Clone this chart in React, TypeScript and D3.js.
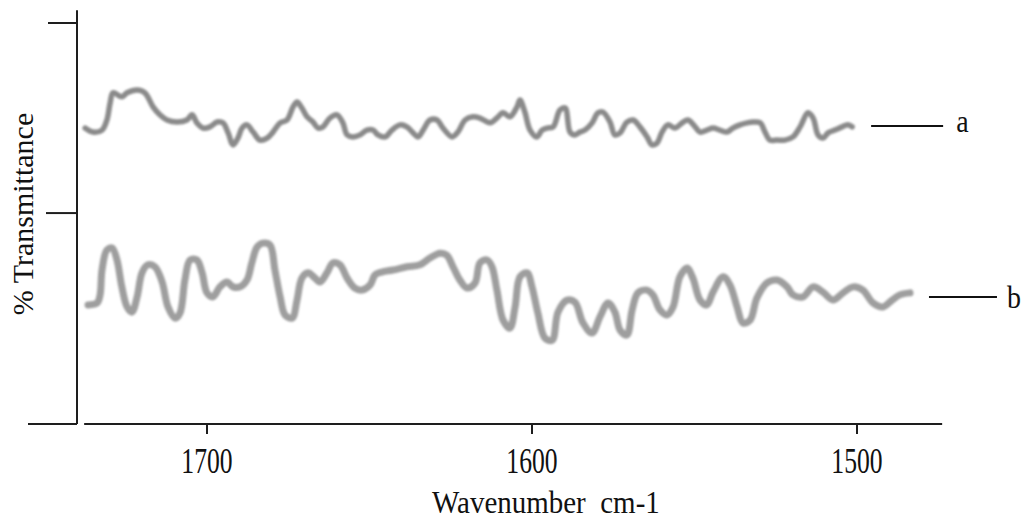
import React from "react";
import * as d3 from "d3";

// Wavenumber (cm-1) and relative % transmittance
const waveA = [1737.5,1735.1,1732.3,1730.8,1729.8,1728.9,1726.2,1724.6,1721.5,1719.1,1716.6,1714.5,1712.3,1709.2,1706.2,1704.6,1703.1,1701.2,1699.1,1696.9,1695.1,1693.5,1692.0,1690.5,1689.2,1687.7,1685.8,1683.7,1681.5,1679.7,1677.5,1675.4,1673.5,1672.3,1670.8,1669.2,1667.4,1665.8,1664.3,1662.2,1660.0,1658.2,1656.9,1655.1,1652.9,1650.8,1648.9,1647.4,1645.2,1643.1,1640.6,1638.5,1636.6,1635.1,1633.5,1631.4,1629.2,1627.4,1624.6,1622.8,1620.6,1618.2,1616.0,1612.9,1610.8,1608.9,1606.8,1604.6,1603.7,1602.2,1600.6,1598.5,1596.9,1595.4,1593.5,1591.4,1589.8,1588.3,1586.8,1585.2,1583.7,1581.5,1579.7,1578.2,1576.0,1574.5,1572.9,1570.8,1568.9,1566.8,1564.6,1563.1,1561.5,1560.0,1558.2,1556.0,1553.8,1552.0,1549.8,1548.3,1546.2,1544.3,1542.2,1540.0,1538.2,1536.0,1533.8,1532.0,1529.8,1528.3,1526.8,1524.6,1522.2,1519.7,1517.5,1515.1,1513.5,1512.0,1510.5,1508.9,1506.8,1504.6,1502.8,1501.5];
const transA = [73.8,72.8,73.3,75.8,80.1,82.6,81.6,82.6,83.3,82.6,79.1,77.1,75.8,75.3,75.8,77.1,75.1,73.8,74.1,75.3,75.1,72.6,69.6,71.3,73.8,74.6,72.8,70.8,71.3,72.8,75.1,75.8,79.1,80.3,78.8,76.6,75.3,73.8,74.1,76.3,77.1,75.1,72.1,71.6,72.1,73.3,73.3,72.1,71.6,73.3,74.6,74.1,72.6,71.6,73.3,75.8,75.8,73.8,71.6,72.8,75.8,76.6,76.3,75.1,76.3,77.6,76.6,79.1,80.8,77.8,73.3,71.6,73.3,73.8,74.1,78.3,78.8,72.8,72.1,72.8,73.3,75.1,77.6,77.8,75.3,72.1,72.6,75.3,75.8,74.1,71.6,69.6,70.1,72.8,74.6,73.8,75.1,75.8,74.1,72.8,73.3,73.8,73.3,72.8,73.8,74.6,75.1,75.3,75.1,72.8,70.8,70.8,70.8,71.6,74.1,77.6,76.3,72.1,71.3,72.6,73.3,74.1,74.6,74.1];

const waveB = [1736.6,1733.8,1732.9,1732.3,1730.8,1729.2,1727.7,1726.2,1724.6,1723.1,1721.5,1720.0,1718.2,1716.0,1713.8,1712.0,1709.8,1708.3,1706.8,1705.2,1703.1,1701.5,1700.0,1698.2,1696.0,1693.8,1692.0,1689.8,1687.7,1686.2,1684.6,1682.8,1680.6,1679.1,1677.5,1676.0,1673.8,1672.3,1670.8,1668.9,1666.8,1665.2,1663.1,1661.2,1659.1,1656.9,1654.5,1652.3,1649.8,1648.3,1646.2,1642.8,1638.5,1634.5,1631.4,1628.3,1626.2,1624.3,1622.2,1620.0,1617.5,1616.0,1613.8,1612.3,1610.8,1608.9,1606.8,1605.2,1603.7,1601.5,1600.0,1598.2,1596.0,1593.8,1592.0,1589.2,1586.8,1584.3,1581.5,1579.1,1576.6,1574.5,1572.9,1570.8,1569.2,1567.4,1564.6,1562.8,1560.6,1558.5,1556.6,1554.5,1552.3,1550.5,1548.3,1546.2,1544.3,1541.2,1539.1,1536.9,1535.1,1532.9,1530.8,1527.7,1524.6,1521.5,1519.7,1516.6,1513.5,1510.5,1507.4,1504.3,1501.2,1498.2,1495.1,1492.0,1489.2,1486.8,1483.7];
const transB = [29.7,30.2,32.2,38.4,43.4,43.9,40.9,34.2,29.2,27.9,31.7,37.7,39.7,39.2,35.4,29.2,26.4,27.7,35.9,40.9,40.9,37.7,32.7,31.7,34.2,35.4,34.2,34.2,35.9,40.2,44.1,45.1,44.6,38.4,31.7,27.2,26.4,30.9,36.4,37.7,36.4,35.4,37.7,40.2,39.7,36.4,33.9,33.4,34.7,37.2,37.9,38.4,39.2,39.7,41.4,42.6,42.1,39.2,35.9,33.9,35.2,40.2,40.9,39.2,33.4,25.9,23.9,29.2,36.7,37.7,34.2,27.7,21.4,20.9,27.9,30.9,30.4,25.2,22.7,26.7,30.2,27.9,23.4,22.2,28.4,32.7,33.4,32.2,28.4,27.2,29.2,36.7,38.9,36.4,30.9,29.7,32.9,36.7,34.7,29.2,25.2,25.9,31.4,35.2,35.9,34.2,32.2,31.7,34.2,32.9,30.9,32.7,34.2,33.4,30.2,29.2,30.9,32.2,32.7];

const xTicks = [1700, 1600, 1500];
const yTicks = [0, 52.6, 100];
const seriesLabels = ["a", "b"];

export default function App() {
  const x = d3.scaleLinear().domain([1700, 1500]).range([207, 857]);
  const y = d3.scaleLinear().domain([0, 100]).range([424, 23]);
  const xDomainEnds = [1737.8, 1473.8];
  const yTop = 103.2;

  const line = d3
    .line<[number, number]>()
    .x((d) => x(d[0]))
    .y((d) => y(d[1]))
    .curve(d3.curveCatmullRom.alpha(0.5));

  const dataA = waveA.map((w, i) => [w, transA[i]] as [number, number]);
  const dataB = waveB.map((w, i) => [w, transB[i]] as [number, number]);

  const tickLen = [49, 31, 29];
  const font = "'Liberation Serif', 'Times New Roman', serif";
  const axisColor = "#1e1e1e";

  const lastA = dataA[dataA.length - 1];
  const lastB = dataB[dataB.length - 1];

  return (
    <svg
      width={1027}
      height={525}
      style={{ position: "absolute", left: 0, top: 0, background: "#fff" }}
    >
      <defs>
        <filter id="soft" x="-5%" y="-20%" width="110%" height="140%">
          <feGaussianBlur stdDeviation="0.8" />
        </filter>
      </defs>
      <rect width={1027} height={525} fill="#fff" />

      {/* y axis */}
      <line x1={77} x2={77} y1={y(yTop)} y2={y(0)} stroke={axisColor} strokeWidth={2} />
      {yTicks.map((t, i) => (
        <line key={t} x1={77 - tickLen[i]} x2={77} y1={y(t)} y2={y(t)} stroke={axisColor} strokeWidth={2} />
      ))}

      {/* x axis */}
      <line x1={x(xDomainEnds[0])} x2={x(xDomainEnds[1])} y1={y(0)} y2={y(0)} stroke={axisColor} strokeWidth={2} />
      {xTicks.map((t) => (
        <g key={t}>
          <line x1={x(t)} x2={x(t)} y1={y(0)} y2={y(0) + 10} stroke={axisColor} strokeWidth={2} />
          <g transform={`translate(${x(t)},473) scale(0.95,1.3)`}>
            <text textAnchor="middle" fontFamily={font} fontSize={27} fill="#111">
              {t}
            </text>
          </g>
        </g>
      ))}

      {/* axis titles */}
      <g transform="translate(432,513) scale(1,1.12)">
        <text fontFamily={font} fontSize={29} fill="#111" style={{ whiteSpace: "pre" }}>
          {"Wavenumber  cm-1"}
        </text>
      </g>
      <g transform="translate(33,214) rotate(-90)">
        <text textAnchor="middle" fontFamily={font} fontSize={30} fill="#111">
          % Transmittance
        </text>
      </g>

      {/* spectra */}
      <g filter="url(#soft)">
        <path d={line(dataA) || ""} fill="none" stroke="#8a8a8a" strokeWidth={5.5} strokeLinejoin="round" strokeLinecap="round" />
        <path d={line(dataB) || ""} fill="none" stroke="#9e9e9e" strokeWidth={7} strokeLinejoin="round" strokeLinecap="round" />
      </g>

      {/* series labels */}
      <line x1={x(lastA[0]) + 19} x2={x(lastA[0]) + 91} y1={126} y2={126} stroke="#111" strokeWidth={2} />
      <g transform={`translate(${x(lastA[0]) + 104},132) scale(1,1.1)`}>
        <text fontFamily={font} fontSize={28} fill="#111">{seriesLabels[0]}</text>
      </g>
      <line x1={x(lastB[0]) + 19} x2={x(lastB[0]) + 87} y1={297} y2={297} stroke="#111" strokeWidth={2} />
      <g transform={`translate(${x(lastB[0]) + 97},308) scale(1,1.1)`}>
        <text fontFamily={font} fontSize={28} fill="#111">{seriesLabels[1]}</text>
      </g>
    </svg>
  );
}
